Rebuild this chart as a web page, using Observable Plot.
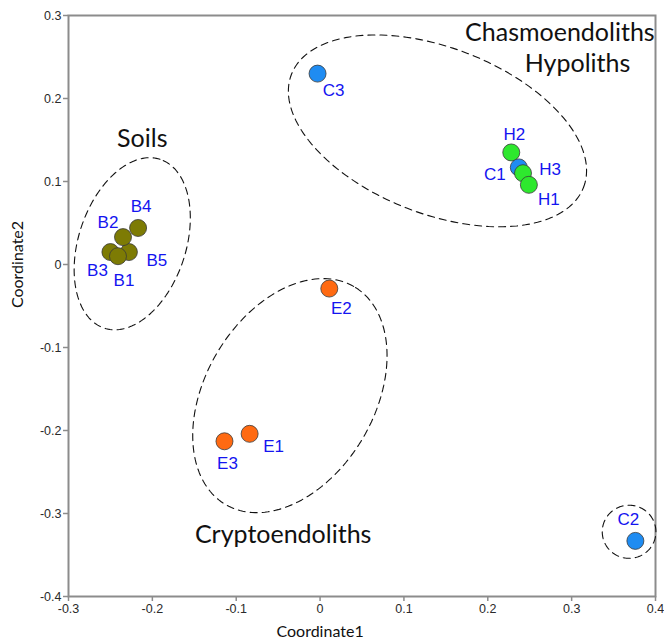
<!DOCTYPE html>
<html>
<head>
<meta charset="utf-8">
<script src="https://cdn.jsdelivr.net/npm/d3@7"></script>
<script src="https://cdn.jsdelivr.net/npm/@observablehq/plot@0.6"></script>
<style>
  html, body { margin: 0; padding: 0; background: #fff; }
  #chart { width: 664px; height: 640px; }
  #chart g[aria-label="x-axis tick label"] text, #chart g[aria-label="y-axis tick label"] text {
    font-size: 12.5px !important; font-family: "Liberation Sans", Arial, sans-serif; fill: #2a2a2a;
  }
</style>
</head>
<body>
<div id="chart"></div>
<script>
// ---- data ----
const sample = ["B4","B3","B5","B2","B1","H2","C1","H3","H1","C3","C2","E2","E1","E3"];
const coord1 = [-0.217,-0.250,-0.228,-0.235,-0.241, 0.228, 0.237, 0.242, 0.249,-0.003, 0.376, 0.011,-0.084,-0.114];
const coord2 = [ 0.044, 0.015, 0.015, 0.033, 0.010, 0.135, 0.117, 0.110, 0.096, 0.230,-0.333,-0.029,-0.204,-0.213];

const xTicks = [-0.3,-0.2,-0.1,0,0.1,0.2,0.3,0.4];
const yTicks = [-0.4,-0.3,-0.2,-0.1,0,0.1,0.2,0.3];

// group outlines (ellipses): centre, semi-axes, rotation (deg)
const ellName  = ["Soils","ChasmoHypo","Crypto","C2"];
const ellCx    = [-0.224, 0.140, -0.036, 0.3685];
const ellCy    = [ 0.025, 0.161, -0.158, -0.322];
const ellA     = [ 0.107, 0.187,  0.152, 0.032];
const ellB     = [ 0.064, 0.100,  0.101, 0.032];
const ellAngle = [ 72,   -21.5,   60,    0];

// group labels
const groupText = ["Soils","Cryptoendoliths","Chasmoendoliths","Hypoliths"];
const groupX    = [-0.212, -0.044, 0.399, 0.307];
const groupY    = [ 0.151, -0.3265, 0.2795, 0.241];

// ---- styles ----
const typeColor = {B:"#7d7b04", H:"#2ee82e", C:"#1f8cf2", E:"#ff6a12"};
const labelOffset = {
  B4:[3,-21], B2:[-15,-15], B3:[-13,18], B1:[6,24], B5:[28,8],
  H2:[3,-18], C1:[-24,7], H3:[27,-4], H1:[20,15],
  E2:[12,20], E1:[24,13], E3:[3,22], C2:[-7,-21], C3:[16,17]
};
const groupAnchor = ["middle","middle","end","middle"];

const points = sample.map((s,i)=>({sample:s, x:coord1[i], y:coord2[i], type:s[0]}));
const groups = groupText.map((t,i)=>({text:t, x:groupX[i], y:groupY[i], anchor:groupAnchor[i]}));

const ellipsePts = [];
ellName.forEach((n,k)=>{
  const phi = ellAngle[k]*Math.PI/180;
  const N = 180;
  for (let j=0;j<=N;j++){
    const t = 2*Math.PI*j/N;
    const u = ellA[k]*Math.cos(t), v = ellB[k]*Math.sin(t);
    ellipsePts.push({name:n, x: ellCx[k] + u*Math.cos(phi) - v*Math.sin(phi),
                             y: ellCy[k] + u*Math.sin(phi) + v*Math.cos(phi)});
  }
});

const fmt = d => (Math.abs(d) < 1e-9 ? "0" : String(+d.toFixed(1)));
const tickFont = "Liberation Sans, Arial, sans-serif";
const humanist = "Lato, 'Open Sans', sans-serif";

const plot = Plot.plot({
  width: 664,
  height: 640,
  marginLeft: 68,
  marginRight: 9,
  marginTop: 15,
  marginBottom: 44,
  style: {background: "#fff", overflow: "visible"},
  x: {domain: [-0.3, 0.4]},
  y: {domain: [-0.4, 0.3]},
  marks: [
    Plot.frame({stroke: "#8c8c8c", strokeWidth: 2}),
    Plot.axisX({ticks: xTicks, tickFormat: fmt, tickSize: 5, tickPadding: 3, stroke: "#8c8c8c", strokeWidth: 1.5,
      label: null, fontSize: 12.5, fill: "#2a2a2a", fontFamily: tickFont}),
    Plot.axisY({ticks: yTicks, tickFormat: fmt, tickSize: 5, tickPadding: 2, stroke: "#8c8c8c", strokeWidth: 1.5,
      label: null, fontSize: 12.5, fill: "#2a2a2a", fontFamily: tickFont}),
    Plot.line(ellipsePts, {x: "x", y: "y", z: "name", stroke: "#111", strokeWidth: 1.1, strokeDasharray: "7,5"}),
    Plot.dot(points, {x: "x", y: "y", r: 8.5, fill: d => typeColor[d.type], stroke: "#3a3a3a", strokeWidth: 0.8}),
    ...points.map(p => Plot.text([p], {x: "x", y: "y", text: "sample",
      dx: labelOffset[p.sample][0], dy: labelOffset[p.sample][1],
      fill: "#1414f0", fontSize: 17, fontFamily: tickFont})),
    ...groups.map(g => Plot.text([g], {x: "x", y: "y", text: "text", textAnchor: g.anchor,
      fill: "#111", fontSize: 25, fontFamily: humanist})),
    Plot.text(["Coordinate1"], {x: [0], y: [-0.4], text: d => d, dy: 35, fontSize: 16, fill: "#111", fontFamily: humanist}),
    Plot.text(["Coordinate2"], {x: [-0.3], y: [0], text: d => d, dx: -51, rotate: -90, fontSize: 16, fill: "#111", fontFamily: humanist})
  ]
});
document.getElementById("chart").appendChild(plot);
</script>
</body>
</html>
